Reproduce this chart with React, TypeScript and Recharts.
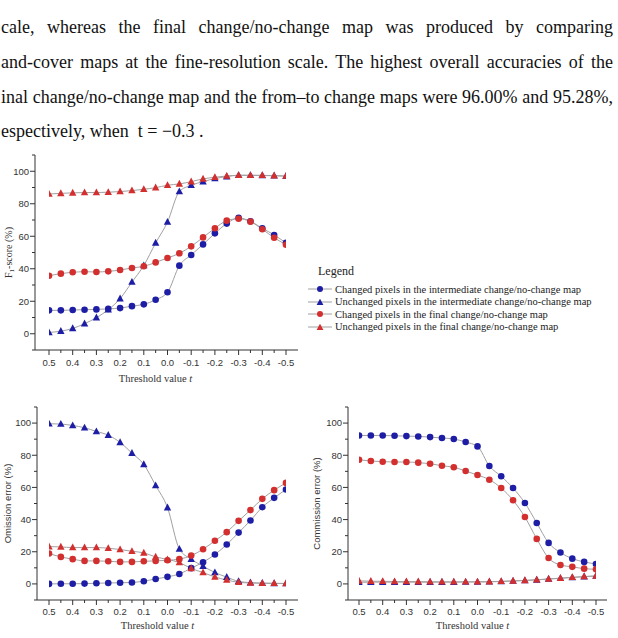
import React from 'react';
import { LineChart, Line, XAxis, YAxis, Label } from 'recharts';

const THRESHOLDS = [0.5, 0.45, 0.4, 0.35, 0.3, 0.25, 0.2, 0.15, 0.1, 0.05, 0, -0.05, -0.1, -0.15, -0.2, -0.25, -0.3, -0.35, -0.4, -0.45, -0.5];
const X_TICKS = THRESHOLDS;
const Y_TICKS = [-10, 0, 10, 20, 30, 40, 50, 60, 70, 80, 90, 100, 110];
const Y_LABELED = [0, 20, 40, 60, 80, 100];

const SERIES_NAMES = [
  'Changed pixels in the intermediate change/no-change map',
  'Unchanged pixels in the intermediate change/no-change map',
  'Changed pixels in the final change/no-change map',
  'Unchanged pixels in the final change/no-change map',
];

const TEXT_LINES = [
  'cale, whereas the final change/no-change map was produced by comparing',
  'and-cover maps at the fine-resolution scale. The highest overall accuracies of the',
  'inal change/no-change map and the from\u2013to change maps were 96.00% and 95.28%,',
];

// F1-score (%)
const F1_CHANGED_INTER = [14.4, 14.4, 14.6, 14.8, 15.0, 15.3, 15.8, 17.0, 18.1, 20.9, 25.5, 41.9, 48.5, 55.0, 61.8, 67.8, 71.3, 69.2, 64.9, 60.8, 55.9];
const F1_UNCHANGED_INTER = [0.8, 1.6, 3.3, 6.2, 9.9, 14.8, 21.6, 31.8, 42.0, 55.9, 68.8, 87.5, 91.4, 93.6, 95.5, 96.7, 97.5, 97.5, 97.4, 97.2, 97.0];
const F1_CHANGED_FINAL = [35.7, 37.0, 37.8, 38.2, 38.0, 38.4, 39.2, 40.5, 41.5, 43.9, 46.6, 49.5, 53.8, 59.3, 64.9, 69.6, 70.8, 69.0, 64.3, 59.1, 54.8];
const F1_UNCHANGED_FINAL = [86.0, 86.4, 86.7, 86.9, 86.9, 87.1, 87.5, 88.1, 88.9, 89.9, 91.4, 92.2, 93.6, 95.3, 96.3, 97.1, 97.5, 97.5, 97.5, 97.3, 97.1];

// Omission error (%)
const OM_CHANGED_INTER = [0.0, 0.1, 0.1, 0.2, 0.4, 0.6, 0.7, 0.9, 1.7, 3.1, 4.4, 6.2, 9.8, 13.5, 18.3, 24.5, 31.9, 39.4, 47.7, 53.5, 58.7];
const OM_UNCHANGED_INTER = [99.6, 99.4, 98.5, 97.1, 94.8, 92.5, 88.0, 81.3, 74.3, 61.2, 47.4, 21.7, 15.4, 11.0, 7.1, 4.2, 1.6, 0.8, 0.5, 0.3, 0.2];
const OM_CHANGED_FINAL = [18.9, 16.8, 15.4, 14.3, 14.3, 14.1, 13.7, 13.7, 14.1, 14.3, 14.7, 15.4, 17.6, 21.6, 26.8, 32.2, 39.2, 45.9, 52.9, 58.3, 62.8];
const OM_UNCHANGED_FINAL = [23.2, 23.0, 22.6, 22.6, 22.6, 22.2, 21.4, 20.3, 19.3, 16.8, 15.2, 13.3, 9.6, 7.1, 4.3, 2.4, 1.0, 0.6, 0.4, 0.4, 0.3];

// Commission error (%)
const CM_CHANGED_INTER = [92.3, 92.3, 92.3, 92.1, 91.9, 91.7, 91.3, 90.7, 90.1, 88.2, 85.5, 73.3, 66.9, 59.6, 50.3, 37.9, 25.5, 19.5, 15.7, 13.7, 12.4];
const CM_UNCHANGED_INTER = [1.0, 1.1, 1.1, 1.1, 1.1, 1.1, 1.1, 1.1, 1.1, 1.2, 1.2, 1.3, 1.5, 1.8, 2.1, 2.5, 3.0, 3.5, 4.0, 4.5, 4.9];
const CM_CHANGED_FINAL = [77.2, 76.4, 76.0, 75.8, 75.8, 75.4, 74.7, 73.5, 72.5, 70.2, 67.7, 64.8, 59.6, 52.0, 41.6, 28.0, 16.1, 11.8, 10.6, 9.5, 9.1];
const CM_UNCHANGED_FINAL = [1.9, 1.7, 1.6, 1.5, 1.5, 1.4, 1.3, 1.3, 1.3, 1.3, 1.3, 1.4, 1.6, 1.9, 2.2, 2.6, 3.1, 3.6, 4.1, 4.6, 5.0];

const BLUE = '#1d1da6';
const RED = '#d42f2f';
const LINE_GRAY = '#a0a0a0';
const AXIS = '#333';
const SANS = '"Liberation Sans", Arial, sans-serif';
const SERIF = '"Liberation Serif", "Times New Roman", serif';

const build = (a: number[], b: number[], c: number[], d: number[]) =>
  THRESHOLDS.map((t, i) => ({ t, ci: a[i], ui: b[i], cf: c[i], uf: d[i] }));

const F1_DATA = build(F1_CHANGED_INTER, F1_UNCHANGED_INTER, F1_CHANGED_FINAL, F1_UNCHANGED_FINAL);
const OM_DATA = build(OM_CHANGED_INTER, OM_UNCHANGED_INTER, OM_CHANGED_FINAL, OM_UNCHANGED_FINAL);
const CM_DATA = build(CM_CHANGED_INTER, CM_UNCHANGED_INTER, CM_CHANGED_FINAL, CM_UNCHANGED_FINAL);

const circleDot = (color: string) => (p: any) => {
  if (p.cx == null || p.cy == null) return <g key={`c${p.index}`} />;
  return <circle key={`c${p.index}`} cx={p.cx} cy={p.cy} r={3.3} fill={color} />;
};
const triPoints = (cx: number, cy: number, s: number) =>
  `${cx},${cy - s * 1.1} ${cx - s},${cy + s * 0.75} ${cx + s},${cy + s * 0.75}`;
const triDot = (color: string) => (p: any) => {
  if (p.cx == null || p.cy == null) return <g key={`t${p.index}`} />;
  return <polygon key={`t${p.index}`} points={triPoints(p.cx, p.cy, 3.7)} fill={color} />;
};

const YTick = (props: any) => {
  const { x, y, payload } = props;
  const v = payload.value;
  const major = Y_LABELED.includes(v);
  return (
    <g>
      <line x1={x - (major ? 5 : 3)} x2={x} y1={y} y2={y} stroke={AXIS} strokeWidth={1} />
      {major && (
        <text x={x - 6} y={y} dy="0.35em" textAnchor="end" fontSize={9.5} fill={AXIS} fontFamily={SANS}>
          {v}
        </text>
      )}
    </g>
  );
};

const makeXTick = (labelGap: number) => (props: any) => {
  const { x, y, payload } = props;
  const v = payload.value as number;
  const major = Math.round(Math.abs(v) * 100) % 10 === 0;
  return (
    <g>
      <line x1={x} x2={x} y1={y} y2={y + (major ? 5 : 3)} stroke={AXIS} strokeWidth={1} />
      {major && (
        <text x={x} y={y + labelGap} dy="0.35em" textAnchor="middle" fontSize={9.5} fill={AXIS} fontFamily={SANS}>
          {v.toFixed(1)}
        </text>
      )}
    </g>
  );
};

const xTitle = (gap: number, shift: number) => (props: any) => {
  const vb = props.viewBox;
  return (
    <text x={vb.x + vb.width / 2 + shift} y={vb.y + gap} dy="0.35em" textAnchor="middle" fontSize={10.5} fill={AXIS} fontFamily={SERIF}>
      Threshold value <tspan fontStyle="italic">t</tspan>
    </text>
  );
};

const yTitle = (cxOffset: number, kind: 'f1' | 'om' | 'cm') => (props: any) => {
  const vb = props.viewBox;
  const cx = vb.x + cxOffset;
  const cy = vb.y + vb.height / 2;
  if (kind === 'f1') {
    return (
      <text x={cx} y={cy} transform={`rotate(-90 ${cx} ${cy})`} dy="0.35em" textAnchor="middle" fontSize={10} fill={AXIS} fontFamily={SERIF}>
        F<tspan fontSize={7} dy={2.5}>1</tspan>
        <tspan dy={-2.5}>-score (%)</tspan>
      </text>
    );
  }
  return (
    <text x={cx} y={cy} transform={`rotate(-90 ${cx} ${cy})`} dy="0.35em" textAnchor="middle" fontSize={9.5} fill={AXIS} fontFamily={SANS}>
      {kind === 'om' ? 'Omission error (%)' : 'Commission error (%)'}
    </text>
  );
};

const MARKERS = ['c', 't', 'c', 't'];
const MARKER_COLORS = [BLUE, BLUE, RED, RED];

const LegendBox = () => (
  <div style={{ position: 'absolute', left: 308, top: 264, fontFamily: SERIF, color: '#222' }}>
    <div style={{ fontSize: 12, lineHeight: '14px', marginLeft: 10, marginBottom: 5 }}>Legend</div>
    {SERIES_NAMES.map((name, i) => (
      <div key={name} style={{ display: 'flex', alignItems: 'center', height: 12.5 }}>
        <svg width={26} height={10} style={{ flex: 'none' }}>
          <line x1={0} x2={24} y1={5} y2={5} stroke={LINE_GRAY} strokeWidth={1} />
          {MARKERS[i] === 'c' ? (
            <circle cx={12} cy={5} r={3} fill={MARKER_COLORS[i]} />
          ) : (
            <polygon points={triPoints(12, 5.5, 3.4)} fill={MARKER_COLORS[i]} />
          )}
        </svg>
        <span style={{ fontSize: 10.5, whiteSpace: 'nowrap', marginLeft: 1 }}>{name}</span>
      </div>
    ))}
  </div>
);

const seriesLines = () => [
  <Line key="ci" dataKey="ci" name={SERIES_NAMES[0]} type="monotone" stroke={LINE_GRAY} strokeWidth={1} dot={circleDot(BLUE)} activeDot={false} isAnimationActive={false} />,
  <Line key="ui" dataKey="ui" name={SERIES_NAMES[1]} type="monotone" stroke={LINE_GRAY} strokeWidth={1} dot={triDot(BLUE)} activeDot={false} isAnimationActive={false} />,
  <Line key="cf" dataKey="cf" name={SERIES_NAMES[2]} type="monotone" stroke={LINE_GRAY} strokeWidth={1} dot={circleDot(RED)} activeDot={false} isAnimationActive={false} />,
  <Line key="uf" dataKey="uf" name={SERIES_NAMES[3]} type="monotone" stroke={LINE_GRAY} strokeWidth={1} dot={triDot(RED)} activeDot={false} isAnimationActive={false} />,
];

type PanelProps = {
  data: any[];
  width: number;
  height: number;
  margin: any;
  yWidth: number;
  xHeight: number;
  padL: number;
  padR: number;
  tickGap: number;
  titleGap: number;
  titleShift: number;
  kind: 'f1' | 'om' | 'cm';
  yTitleX: number;
};

const Panel = (p: PanelProps) => (
  <LineChart width={p.width} height={p.height} data={p.data} margin={p.margin}>
    <XAxis
      dataKey="t"
      type="number"
      domain={[-0.5, 0.5]}
      reversed
      ticks={X_TICKS}
      interval={0}
      padding={{ left: p.padL, right: p.padR }}
      height={p.xHeight}
      stroke={AXIS}
      tickLine={false}
      tickSize={0}
      tickMargin={0}
      tick={makeXTick(p.tickGap)}
      allowDataOverflow
    >
      <Label content={xTitle(p.titleGap, p.titleShift)} />
    </XAxis>
    <YAxis
      type="number"
      domain={[-10, 110]}
      ticks={Y_TICKS}
      interval={0}
      width={p.yWidth}
      stroke={AXIS}
      tickLine={false}
      tickSize={0}
      tickMargin={0}
      tick={YTick}
    >
      <Label content={yTitle(p.yTitleX, p.kind)} />
    </YAxis>
    {seriesLines()}
  </LineChart>
);

export default function App() {
  return (
    <div style={{ position: 'absolute', left: 0, top: 0, width: 618, height: 638, background: '#fff', overflow: 'hidden' }}>
      {TEXT_LINES.map((line, i) => (
        <div
          key={i}
          style={{
            position: 'absolute',
            left: 1,
            top: 16 + i * 34.8,
            width: 612,
            fontFamily: SERIF,
            fontSize: 18,
            lineHeight: '22px',
            color: '#111',
            textAlign: 'justify',
            textAlignLast: 'justify',
            whiteSpace: 'nowrap',
          }}
        >
          {line}
        </div>
      ))}
      <div
        style={{
          position: 'absolute',
          left: 1,
          top: 16 + 3 * 34.8,
          fontFamily: SERIF,
          fontSize: 18,
          lineHeight: '22px',
          color: '#111',
          whiteSpace: 'pre',
        }}
      >
        {'espectively, when  t = \u22120.3 .'}
      </div>

      <div style={{ position: 'absolute', left: 0, top: 150 }}>
        <Panel
          data={F1_DATA}
          width={310}
          height={240}
          margin={{ top: 5, right: 12, bottom: 0, left: 0 }}
          yWidth={35}
          xHeight={40}
          padL={14}
          padR={12}
          tickGap={12.7}
          titleGap={28}
          titleShift={-11}
          kind="f1"
          yTitleX={8}
        />
      </div>
      <LegendBox />

      <div style={{ position: 'absolute', left: 0, top: 400 }}>
        <Panel
          data={OM_DATA}
          width={310}
          height={238}
          margin={{ top: 7, right: 12, bottom: 0, left: 0 }}
          yWidth={37}
          xHeight={38}
          padL={12}
          padR={12}
          tickGap={11.7}
          titleGap={25}
          titleShift={-10}
          kind="om"
          yTitleX={8}
        />
      </div>

      <div style={{ position: 'absolute', left: 310, top: 400 }}>
        <Panel
          data={CM_DATA}
          width={308}
          height={238}
          margin={{ top: 7, right: 11, bottom: 0, left: 0 }}
          yWidth={38}
          xHeight={38}
          padL={11}
          padR={11}
          tickGap={11.7}
          titleGap={25}
          titleShift={-5}
          kind="cm"
          yTitleX={7}
        />
      </div>
    </div>
  );
}
